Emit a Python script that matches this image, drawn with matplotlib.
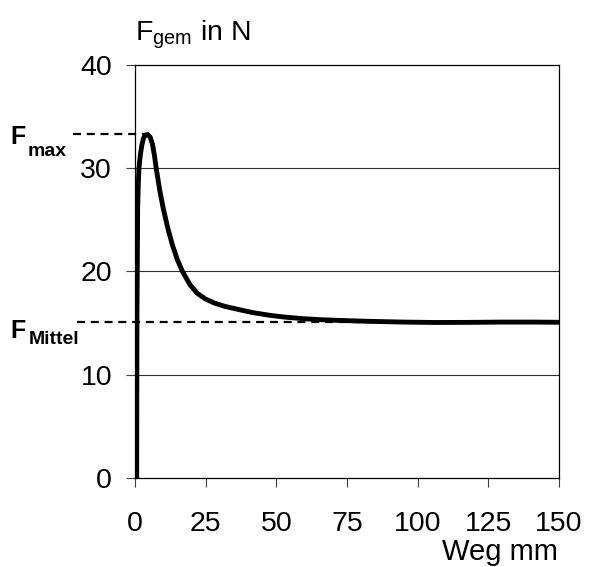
import matplotlib
matplotlib.use("Agg")
from matplotlib import pyplot as plt

plt.rcParams['font.family'] = ['Liberation Sans', 'DejaVu Sans']
plt.rcParams['mathtext.fontset'] = 'custom'
plt.rcParams['mathtext.rm'] = 'Liberation Sans'

# Weg in mm, gemittelte Kraft in N
weg = [0.6, 0.65, 0.7, 0.8, 0.95, 1.15, 1.4, 1.9, 2.4, 3.0, 3.6, 4.5, 5.4, 6.2,
       6.9, 7.5, 8.8, 10.0, 11.6, 13.2, 14.9, 16.8, 19.5, 22.0, 24.8, 28.0, 31.8,
       37.7, 42, 47.8, 53, 59.5, 65, 71.3, 83, 95, 106, 118, 130, 140, 150]
kraft = [0, 10, 16, 20, 26.1, 28.3, 30.0, 31.3, 32.2, 32.9, 33.2, 33.27, 33.0,
         32.3, 31.2, 30.0, 27.8, 26.1, 24.2, 22.6, 21.2, 20.0, 18.7, 17.9, 17.35,
         16.95, 16.62, 16.25, 16.0, 15.75, 15.58, 15.43, 15.34, 15.27, 15.17,
         15.1, 15.06, 15.07, 15.1, 15.1, 15.08]

x_ticks = [0, 25, 50, 75, 100, 125, 150]
y_ticks = [0, 10, 20, 30, 40]

f_max = 33.27
f_max_weg = 4.5
f_mittel = 15.13

fig = plt.figure(figsize=(5.9, 5.67), dpi=100)
ax = fig.add_axes([0.2288, 0.157, 0.7187, 0.7284])

ax.set_xlim(0, 150)
ax.set_ylim(0, 40)
ax.set_xticks(x_ticks)
ax.set_yticks(y_ticks)
ax.tick_params(direction='out', length=6.5, width=0.8, labelsize=20.5, color='#404040')
ax.tick_params(axis='x', pad=17)
ax.tick_params(axis='y', pad=10)
for s in ax.spines.values():
    s.set_linewidth(0.9)

for yv in y_ticks[1:-1]:
    ax.axhline(yv, color='#303030', lw=0.8, zorder=1)

# Hilfslinien F_max und F_Mittel
ax.plot([-22, f_max_weg], [f_max, f_max], color='black', lw=1.6,
        dashes=(3.6, 2.6), clip_on=False, zorder=2)
ax.plot([-20.5, 150], [f_mittel, f_mittel], color='black', lw=1.6,
        dashes=(3.6, 2.6), clip_on=False, zorder=2)

ax.plot(weg, kraft, color='black', lw=3.5, solid_capstyle='butt',
        solid_joinstyle='round', zorder=3)

# Beschriftung links
fig.text(10 / 590, 1 - 144 / 567, 'F', fontsize=18, fontweight='bold',
         ha='left', va='baseline')
fig.text(28 / 590, 1 - 156 / 567, 'max', fontsize=14, fontweight='bold',
         ha='left', va='baseline')
fig.text(10 / 590, 1 - 338 / 567, 'F', fontsize=18, fontweight='bold',
         ha='left', va='baseline')
fig.text(29 / 590, 1 - 344 / 567, 'Mittel', fontsize=14, fontweight='bold',
         ha='left', va='baseline')

fig.text(135 / 590, 1 - 40 / 567, r'F$_{\mathrm{gem}}$ in N', fontsize=20.5,
         ha='left', va='baseline')
fig.text(558 / 590, 1 - 560 / 567, 'Weg mm', fontsize=21, ha='right', va='baseline')

fig.savefig('out.png', dpi=100)
